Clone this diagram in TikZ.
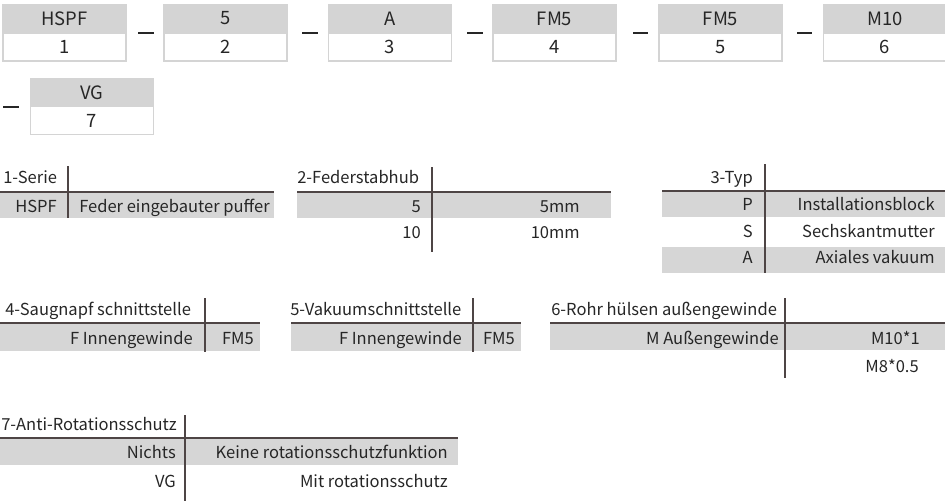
\documentclass[tikz,border=0pt]{standalone}
\usepackage{fontspec}
\setmainfont{Noto Sans CJK SC}
\usepackage{xcolor}
\usepackage{tikz}
\usetikzlibrary{positioning}
\definecolor{boxgray}{HTML}{D4D4D4}
\definecolor{rowgray}{HTML}{D6D6D6}
\definecolor{rulecol}{HTML}{4E4545}
\definecolor{ink}{HTML}{262626}
\newcommand{\boxfont}{\fontsize{13.8}{16}\selectfont}
\newcommand{\tabfont}{\fontsize{12.4}{14}\selectfont}

\begin{document}
\begin{tikzpicture}[x=0.75pt,y=-0.75pt,
    head/.style={rectangle,fill=boxgray,draw=boxgray,line width=1.1pt,minimum width=92pt,minimum height=20.5pt,inner sep=0pt,text=ink,font=\boxfont},
    code/.style={rectangle,fill=white,draw=boxgray,line width=1.1pt,minimum width=92pt,minimum height=21pt,inner sep=0pt,text=ink,font=\boxfont},
    joiner/.style={draw=ink,line width=1pt},
    cellL/.style={anchor=base west,inner sep=0pt,text=ink,font=\tabfont},
    cellR/.style={anchor=base east,inner sep=0pt,text=ink,font=\tabfont},
    band/.style={fill=rowgray},
    rowline/.style={draw=rulecol,line width=0.8pt},
    colline/.style={draw=rulecol,line width=1pt}]

    \useasboundingbox (0,0) rectangle (945,501);

    % The code boxes
    \node [head] at (64.5,18.5) (h1) {HSPF};
    \node [code] at (64.5,47) (c1) {1};
    \node [head] at (225.5,18.5) (h2) {5};
    \node [code] at (225.5,47) (c2) {2};
    \node [head] at (390,18.5) (h3) {A};
    \node [code] at (390,47) (c3) {3};
    \node [head] at (554.5,18.5) (h4) {FM5};
    \node [code] at (554.5,47) (c4) {4};
    \node [head] at (720.5,18.5) (h5) {FM5};
    \node [code] at (720.5,47) (c5) {5};
    \node [head] at (885,18.5) (h6) {M10};
    \node [code] at (885,47) (c6) {6};
    \node [head] at (92,92.5) (h7) {VG};
    \node [code] at (92,120.5) (c7) {7};

    % The joiners
    \draw [joiner] (138,33) -- (154,33);
    \draw [joiner] (302,33) -- (318,33);
    \draw [joiner] (467,33) -- (483,33);
    \draw [joiner] (633,33) -- (648,33);
    \draw [joiner] (797,33) -- (812,33);
    \draw [joiner] (3,107) -- (19,107);

    % Table 1
    \fill [band] (0,192) rectangle (274,218);
    \draw [rowline] (0,192) -- (274,192);
    \draw [colline] (68,166) -- (68,218);
    \node [cellL] at (3,183) (serie) {1-Serie};
    \node [cellR] at (57,212) (serieA) {HSPF};
    \node [cellL] at (79,212) (serieB) {Feder eingebauter puffer};

    % Table 2
    \fill [band] (297,192) rectangle (611,218);
    \draw [rowline] (297,192) -- (611,192);
    \draw [colline] (432,167) -- (432,252);
    \node [cellL] at (297,183) (hub) {2-Federstabhub};
    \node [cellR] at (421,212) (hubA) {5};
    \node [cellR] at (580,212) (hubB) {5mm};
    \node [cellR] at (421,238) (hubC) {10};
    \node [cellR] at (580,238) (hubD) {10mm};

    % Table 3
    \fill [band] (662,191) rectangle (945,217);
    \fill [band] (662,247) rectangle (945,273);
    \draw [rowline] (662,191) -- (945,191);
    \draw [colline] (765,164) -- (765,273);
    \node [cellR] at (753,183) (typ) {3-Typ};
    \node [cellR] at (753,210) (typA) {P};
    \node [cellR] at (935,210) (typB) {Installationsblock};
    \node [cellR] at (753,237) (typC) {S};
    \node [cellR] at (935,237) (typD) {Sechskantmutter};
    \node [cellR] at (753,263) (typE) {A};
    \node [cellR] at (935,263) (typF) {Axiales vakuum};

    % Table 4
    \fill [band] (0,323) rectangle (260,351);
    \draw [rowline] (0,323) -- (260,323);
    \draw [colline] (205,298) -- (205,352);
    \node [cellL] at (5,315) (napf) {4-Saugnapf schnittstelle};
    \node [cellR] at (193,344) (napfA) {F Innengewinde};
    \node [cellR] at (254,344) (napfB) {FM5};

    % Table 5
    \fill [band] (291,323) rectangle (521,351);
    \draw [rowline] (291,323) -- (521,323);
    \draw [colline] (473,298) -- (473,352);
    \node [cellL] at (290,315) (vak) {5-Vakuumschnittstelle};
    \node [cellR] at (462,344) (vakA) {F Innengewinde};
    \node [cellR] at (515,344) (vakB) {FM5};

    % Table 6
    \fill [band] (550,323) rectangle (945,350);
    \draw [rowline] (550,323) -- (945,323);
    \draw [colline] (785,298) -- (785,378);
    \node [cellL] at (551,315) (rohr) {6-Rohr hülsen außengewinde};
    \node [cellR] at (779,344) (rohrA) {M Außengewinde};
    \node [cellR] at (920,344) (rohrB) {M10*1};
    \node [cellR] at (919,372) (rohrC) {M8*0.5};

    % Table 7
    \fill [band] (0,438) rectangle (458,465);
    \draw [rowline] (0,438) -- (458,438);
    \draw [colline] (185,415) -- (185,501);
    \node [cellL] at (1,430) (anti) {7-Anti-Rotationsschutz};
    \node [cellR] at (176,458) (antiA) {Nichts};
    \node [cellR] at (448,458) (antiB) {Keine rotationsschutzfunktion};
    \node [cellR] at (176,487) (antiC) {VG};
    \node [cellR] at (448,487) (antiD) {Mit rotationsschutz};

\end{tikzpicture}
\end{document}
